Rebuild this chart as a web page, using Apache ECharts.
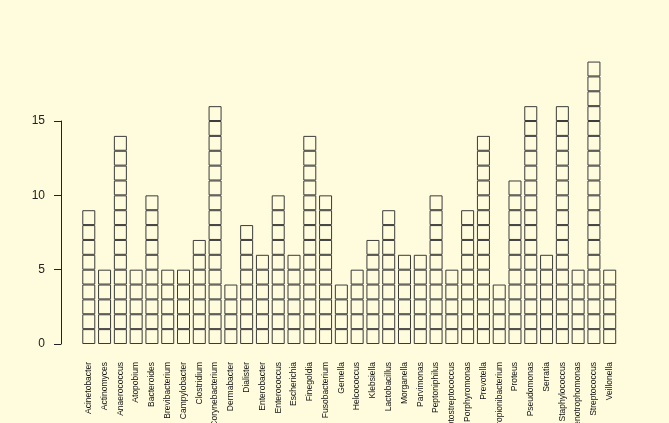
<!DOCTYPE html>
<html><head><meta charset="utf-8">
<script src="https://cdn.jsdelivr.net/npm/echarts@6/dist/echarts.min.js"></script>
<style>html,body{margin:0;padding:0;background:#FFFCDE;}#c{width:669px;height:423px;}</style>
</head><body><div id="c"></div>
<script>
var categories = ["Acinetobacter","Actinomyces","Anaerococcus","Atopobium","Bacteroides","Brevibacterium","Campylobacter","Clostridium","Corynebacterium","Dermabacter","Dialister","Enterobacter","Enterococcus","Escherichia","Finegoldia","Fusobacterium","Gemella","Helcococcus","Klebsiella","Lactobacillus","Morganella","Parvimonas","Peptoniphilus","Peptostreptococcus","Porphyromonas","Prevotella","Propionibacterium","Proteus","Pseudomonas","Serratia","Staphylococcus","Stenotrophomonas","Streptococcus","Veillonella"];
var counts = [9,5,14,5,10,5,5,7,16,4,8,6,10,6,14,10,4,5,7,9,6,6,10,5,9,14,4,11,16,6,16,5,19,5];
var yTicks = [0,5,10,15];

var maxCount = Math.max.apply(null, counts);
var series = [];
for (var k = 1; k <= maxCount; k++) {
  series.push({
    type: 'bar', stack: 'units', xAxisIndex: 0, yAxisIndex: 0,
    barWidth: 13, silent: true,
    data: counts.map(function(v){ return v >= k ? 1 : '-'; }),
    itemStyle: { color: 'rgba(0,0,0,0)', borderColor: '#3a3a3a', borderWidth: 1, borderRadius: 0 }
  });
}
series.push({ type: 'bar', xAxisIndex: 1, yAxisIndex: 1, data: [] });

var chart = echarts.init(document.getElementById('c'), null, {renderer: 'canvas'});
chart.setOption({
  animation: false,
  backgroundColor: '#FFFCDE',
  grid: [
    { left: 80.9, right: 51.4, top: 46.7, bottom: 79, outerBoundsMode: 'none', containLabel: false },
    { left: 61, right: 51.4, top: 121, bottom: 79, outerBoundsMode: 'none', containLabel: false }
  ],
  xAxis: [
    { type: 'category', gridIndex: 0, data: categories, boundaryGap: true,
      axisLine: { show: false }, axisTick: { show: false },
      axisLabel: { rotate: 90, interval: 0, fontSize: 8.5, color: '#111', margin: 18,
        fontFamily: 'Liberation Sans, Arial, sans-serif' } },
    { type: 'category', gridIndex: 1, data: [], show: false }
  ],
  yAxis: [
    { type: 'value', gridIndex: 0, min: 0, max: 20, show: false },
    { type: 'value', gridIndex: 1, min: yTicks[0], max: yTicks[yTicks.length-1], interval: 5,
      axisLine: { show: true, lineStyle: { color: '#222', width: 1 } },
      axisTick: { show: true, length: 7, lineStyle: { color: '#222' } },
      splitLine: { show: false },
      axisLabel: { fontSize: 12, color: '#222', margin: 16, fontFamily: 'Liberation Sans, Arial, sans-serif' } }
  ],
  series: series
});
</script></body></html>
